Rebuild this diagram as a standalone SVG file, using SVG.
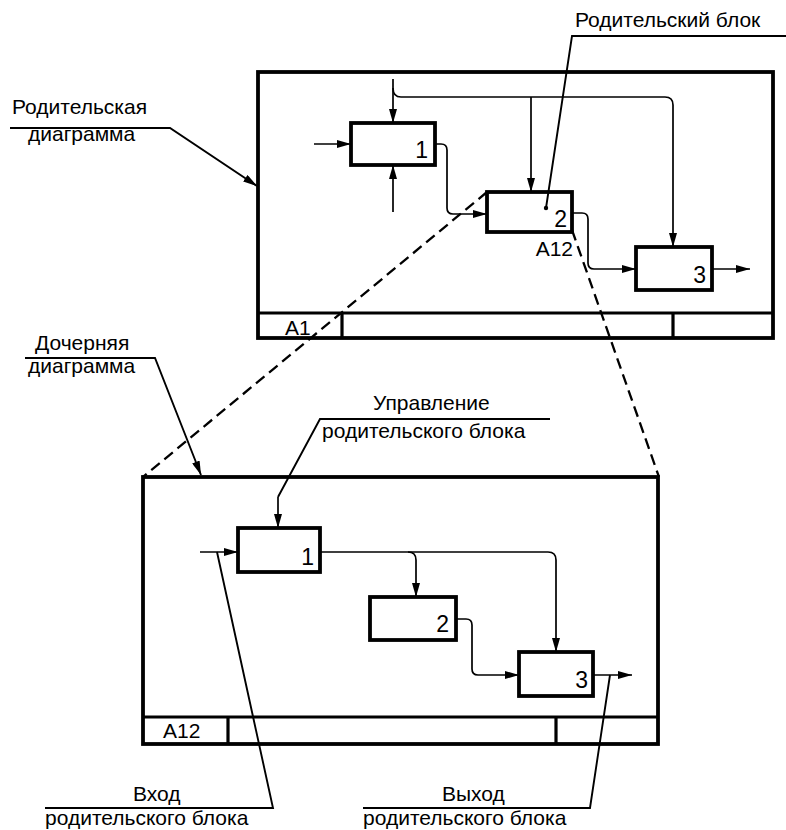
<svg xmlns="http://www.w3.org/2000/svg" width="786" height="830" viewBox="0 0 786 830">
<style>
text{font-family:"Liberation Sans",Arial,sans-serif;font-size:21px;fill:#000}
.frame{fill:none;stroke:#000;stroke-width:3.8}
.box{fill:#fff;stroke:#000;stroke-width:3.8}
.cell{fill:none;stroke:#000;stroke-width:3.2}
.arr{fill:none;stroke:#000;stroke-width:1.7;marker-end:url(#ah)}
.lead{fill:none;stroke:#000;stroke-width:1.9}
.dash{fill:none;stroke:#000;stroke-width:2.3;stroke-dasharray:11 6}
.num{text-anchor:end;font-size:23px}
.tag{text-anchor:end}
</style>
<defs>
<marker id="ah" viewBox="0 0 14 8" refX="14" refY="4" markerWidth="14" markerHeight="8" orient="auto" markerUnits="userSpaceOnUse">
<path d="M0,0 L14,4 L0,8 z" fill="#000"/>
</marker>
</defs>

<g id="parent-diagram">
<rect class="frame" x="258" y="72" width="515" height="266"/>
<path class="cell" d="M258,313 H773 M342,313 V338 M673,313 V338"/>
<text x="285" y="335">A1</text>
</g>

<g id="p-box1">
<rect class="box" x="351" y="123" width="84" height="42"/>
<text class="num" x="428" y="158">1</text>
</g>
<g id="p-box2">
<rect class="box" x="487" y="192" width="85" height="40"/>
<text class="num" x="567" y="227">2</text>
<text class="tag" x="573" y="256">A12</text>
</g>
<g id="p-box3">
<rect class="box" x="636" y="247" width="76" height="43"/>
<text class="num" x="706" y="283">3</text>
</g>

<g id="child-diagram">
<rect class="frame" x="143" y="477" width="515" height="267"/>
<path class="cell" d="M143,717 H658 M228,717 V744 M556,717 V744"/>
<text x="163" y="738">A12</text>
</g>

<g id="c-box1">
<rect class="box" x="238" y="528" width="82" height="44"/>
<text class="num" x="314" y="565">1</text>
</g>
<g id="c-box2">
<rect class="box" x="370" y="597" width="86" height="43"/>
<text class="num" x="449" y="632">2</text>
</g>
<g id="c-box3">
<rect class="box" x="519" y="652" width="74" height="44"/>
<text class="num" x="588" y="688">3</text>
</g>

<g id="connectors">
<path class="arr" d="M314,144 H351"/>
<path class="arr" d="M393,212 V165"/>
<path class="arr" d="M393,79 V123"/>
<path class="arr" d="M393,88 Q393,97 401,97 H665 Q673,97 673,105 V247"/>
<path class="arr" d="M531,97 V192"/>
<path class="arr" d="M435,144 H441 Q447,144 447,150 V208 Q447,214 453,214 H487"/>
<path class="arr" d="M572,213 H582 Q588,213 588,219 V263 Q588,269 594,269 H636"/>
<path class="arr" d="M712,269 H750"/>

<path class="arr" d="M200,552 H238"/>
<path class="arr" d="M278,497 V528"/>
<path class="arr" d="M320,552 H548 Q556,552 556,560 V652"/>
<path class="arr" d="M408,552 Q416,552 416,560 V597"/>
<path class="arr" d="M456,619 H466 Q472,619 472,625 V669 Q472,675 478,675 H519"/>
<path class="arr" d="M593,675 H632"/>

<path class="dash" d="M487,192 L143,477"/>
<path class="dash" d="M572,230 L659,477"/>
</g>

<g id="label-parent-block">
<text x="575" y="27">Родительский блок</text>
<path class="lead" d="M786,36 H572 L546,208"/>
<circle cx="546" cy="208" r="2.2" fill="#000"/>
</g>
<g id="label-parent-diagram">
<text x="12" y="114" font-size="22">Родительская</text>
<text x="28" y="141" font-size="22">диаграмма</text>
<path class="lead" d="M10,128 H170 L257,186" marker-end="url(#ah)"/>
</g>
<g id="label-child-diagram">
<text x="35" y="350" font-size="22">Дочерняя</text>
<text x="28" y="373" font-size="22">диаграмма</text>
<path class="lead" d="M25,358 H155 L201,475" marker-end="url(#ah)"/>
</g>
<g id="label-control">
<text x="373" y="410">Управление</text>
<text x="322" y="438">родительского блока</text>
<path class="lead" d="M550,419 H320 L278,497"/>
</g>
<g id="label-input">
<text x="133" y="801">Вход</text>
<text x="45" y="825">родительского блока</text>
<path class="lead" d="M45,808 H273 L217,552"/>
</g>
<g id="label-output">
<text x="442" y="801">Выход</text>
<text x="363" y="825">родительского блока</text>
<path class="lead" d="M363,808 H590 L610,675"/>
</g>
</svg>
